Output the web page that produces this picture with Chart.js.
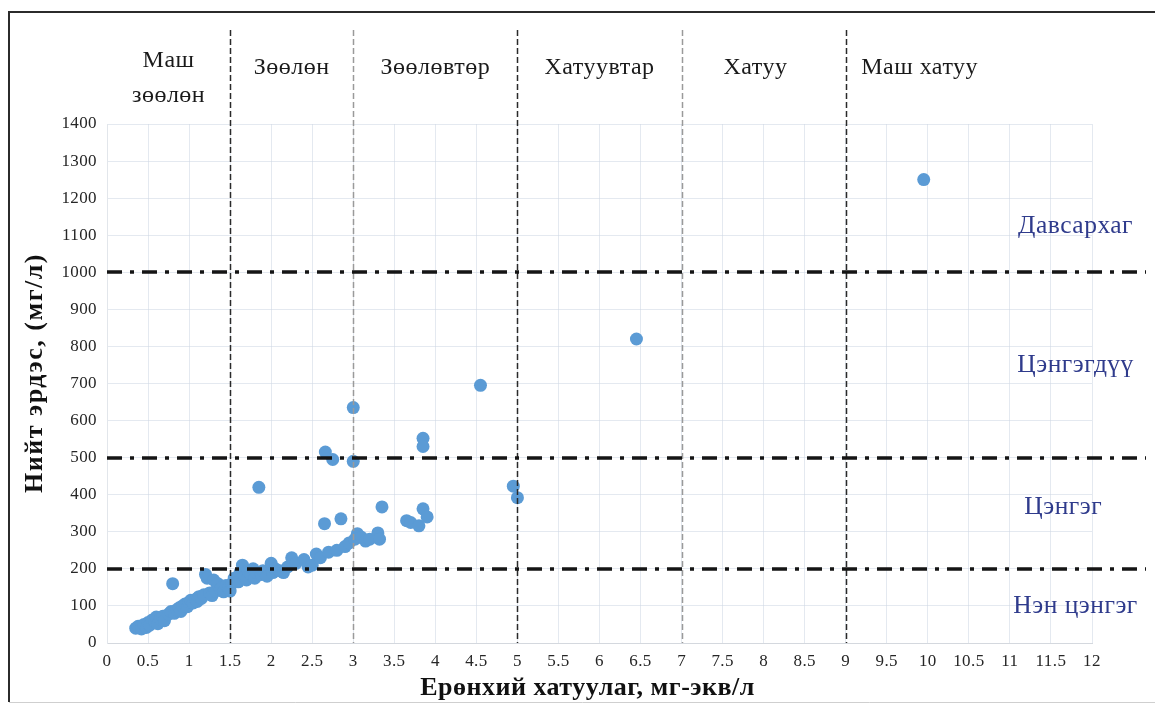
<!DOCTYPE html>
<html>
<head>
<meta charset="utf-8">
<script src="https://cdn.jsdelivr.net/npm/chart.js@4.4.1/dist/chart.umd.min.js"></script>
<style>
  html, body { margin: 0; padding: 0; background: #ffffff; }
  #wrap { width: 1155px; height: 708px; position: relative; }
</style>
</head>
<body>
<div id="wrap"><canvas id="c" width="1155" height="708"></canvas></div>
<script>
// Total hardness (mg-eq/l) and total dissolved solids (mg/l) of the samples
const hardness = [
  0.35, 0.38, 0.42, 0.45, 0.48, 0.50, 0.52, 0.55, 0.58, 0.60, 0.62, 0.65, 0.68, 0.70,
  0.75, 0.78, 0.80, 0.82, 0.85, 0.88, 0.90, 0.92, 0.95, 0.98, 1.00, 1.02, 1.05, 1.08,
  1.10, 1.12, 1.15, 1.18, 1.20, 1.22, 1.25, 1.28, 1.30, 1.32, 1.35, 1.38, 1.40, 1.42,
  1.45, 1.48, 1.50, 1.52, 1.55, 1.60, 1.62, 1.65, 1.68, 1.70, 1.72, 1.75, 1.78, 1.80,
  1.82, 1.85, 1.88, 1.90, 1.95, 2.00, 2.02, 2.05, 2.10, 2.15, 2.20, 2.25, 2.30, 2.40,
  2.45, 2.50, 2.55, 2.60, 2.65, 2.66, 2.70, 2.75, 2.80, 2.85, 2.90, 2.95, 3.00, 3.00,
  3.02, 3.05, 3.10, 3.15, 3.20, 3.30, 3.32, 3.35, 3.65, 3.70, 3.80, 3.85, 3.90, 3.85,
  3.85, 4.55, 4.95, 5.00, 6.45, 9.95
];
const minerals = [
  40, 45, 38, 50, 42, 55, 48, 62, 58, 70, 52, 65, 72, 60,
  78, 85, 160, 80, 90, 95, 85, 100, 105, 98, 110, 115, 108, 118,
  112, 125, 120, 130, 185, 175, 135, 128, 170, 140, 160, 145, 150, 138,
  155, 148, 140, 160, 175, 165, 190, 210, 180, 170, 195, 185, 200, 175,
  190, 420, 185, 195, 180, 215, 190, 200, 195, 190, 205, 230, 215, 225,
  205, 210, 240, 230, 322, 515, 245, 495, 250, 335, 260, 270, 635, 490,
  280, 295, 285, 275, 280, 297, 280, 367, 330, 325, 316, 362, 340, 552,
  530, 695, 423, 392, 820, 1250
];

// Hardness classes (upper bounds) and their names
const hardnessBounds = [1.5, 3, 5, 7, 9];
const hardnessBoundDark = [true, false, true, false, true];
const hardnessNames = [["Маш", "зөөлөн"], ["Зөөлөн"], ["Зөөлөвтөр"], ["Хатуувтар"], ["Хатуу"], ["Маш хатуу"]];
const hardnessNameX = [0.75, 2.25, 4.0, 6.0, 7.9, 9.9];

// Mineralization classes
const mineralBounds = [200, 500, 1000];
const mineralNames = ["Нэн цэнгэг", "Цэнгэг", "Цэнгэгдүү", "Давсархаг"];
const mineralNameY = [100, 367, 750, 1125];
const mineralNameX = [11.8, 11.65, 11.8, 11.8];

const xTicks = [0, 12, 0.5];
const yTicks = [0, 1400, 100];

const xTitle = 'Ерөнхий хатуулаг, мг-экв/л';
const yTitle = 'Нийт эрдэс, (мг/л)';

const SERIF = '"Liberation Serif", "DejaVu Serif", serif';

const overlay = {
  id: 'classOverlay',
  beforeDraw(chart) {
    chart.ctx.letterSpacing = '0.4px';
  },
  afterDatasetsDraw(chart) {
    const ctx = chart.ctx;
    const xs = chart.scales.x, ys = chart.scales.y;
    const area = chart.chartArea;
    ctx.save();

    // hardness class dividers
    hardnessBounds.forEach((b, i) => {
      const px = Math.round(xs.getPixelForValue(b)) + 0.5;
      ctx.beginPath();
      ctx.setLineDash([6, 3]);
      ctx.lineWidth = 1.5;
      ctx.strokeStyle = hardnessBoundDark[i] ? '#2a2a2a' : '#9a9a9a';
      ctx.moveTo(px, 30);
      ctx.lineTo(px, area.bottom);
      ctx.stroke();
    });

    // mineralization class dividers
    mineralBounds.forEach(b => {
      const py = Math.round(ys.getPixelForValue(b));
      ctx.beginPath();
      ctx.setLineDash([15, 8, 4, 8]);
      ctx.lineWidth = 3.5;
      ctx.strokeStyle = '#151515';
      ctx.moveTo(area.left, py);
      ctx.lineTo(1146, py);
      ctx.stroke();
    });
    ctx.setLineDash([]);

    // hardness class names
    ctx.fillStyle = '#1a1a1a';
    ctx.font = '24px ' + SERIF;
    ctx.letterSpacing = '0.5px';
    ctx.textAlign = 'center';
    ctx.textBaseline = 'middle';
    hardnessNames.forEach((lines, i) => {
      const px = xs.getPixelForValue(hardnessNameX[i]);
      if (lines.length === 2) {
        ctx.fillText(lines[0], px, 61);
        ctx.fillText(lines[1], px, 96);
      } else {
        ctx.fillText(lines[0], px, 68);
      }
    });

    // mineralization class names
    ctx.fillStyle = '#2f3b8c';
    ctx.font = '25.5px ' + SERIF;
    ctx.letterSpacing = '0.5px';
    mineralNames.forEach((t, i) => {
      ctx.fillText(t, xs.getPixelForValue(mineralNameX[i]), ys.getPixelForValue(mineralNameY[i]));
    });

    // axis titles
    ctx.fillStyle = '#111111';
    ctx.font = 'bold 26px ' + SERIF;
    ctx.letterSpacing = '0.5px';
    ctx.fillText(xTitle, (area.left + area.right) / 2 - 12, 688);
    ctx.save();
    ctx.translate(35, 373);
    ctx.rotate(-Math.PI / 2);
    ctx.letterSpacing = '1.5px';
    ctx.fillText(yTitle, 0, 0);
    ctx.restore();

    // outer frame
    ctx.strokeStyle = '#2b2b2b';
    ctx.lineWidth = 2;
    ctx.beginPath();
    ctx.moveTo(1160, 12);
    ctx.lineTo(9, 12);
    ctx.lineTo(9, 702);
    ctx.stroke();
    ctx.strokeStyle = '#cfcfcf';
    ctx.lineWidth = 1;
    ctx.beginPath();
    ctx.moveTo(9, 702.5);
    ctx.lineTo(1160, 702.5);
    ctx.stroke();

    ctx.restore();
  }
};

const points = hardness.map((h, i) => ({ x: h, y: minerals[i] }));

new Chart(document.getElementById('c'), {
  type: 'scatter',
  data: {
    datasets: [{
      data: points,
      backgroundColor: '#5b9bd5',
      borderColor: '#5b9bd5',
      pointRadius: 6.5,
      pointHoverRadius: 6.5,
      borderWidth: 0
    }]
  },
  options: {
    responsive: false,
    animation: false,
    devicePixelRatio: 1,
    layout: { padding: { left: 20, right: 63, top: 124, bottom: 5 } },
    plugins: { legend: { display: false }, tooltip: { enabled: false } },
    scales: {
      x: {
        type: 'linear',
        min: xTicks[0], max: xTicks[1],
        ticks: {
          stepSize: xTicks[2],
          padding: 8,
          color: '#262626',
          font: { family: SERIF, size: 17 },
          callback: v => String(v),
          maxRotation: 0, autoSkip: false
        },
        grid: { color: 'rgba(205,215,228,0.55)', drawTicks: false },
        border: { color: '#d4d8de', width: 1 },
        title: { display: false },
        afterFit: s => { s.height = 60; }
      },
      y: {
        type: 'linear',
        min: yTicks[0], max: yTicks[1],
        ticks: {
          stepSize: yTicks[2],
          padding: 10,
          color: '#262626',
          font: { family: SERIF, size: 17 },
          callback: v => String(v)
        },
        grid: { color: 'rgba(205,215,228,0.55)', drawTicks: false },
        border: { color: '#e2e6eb', width: 1 },
        title: { display: false },
        afterFit: s => { s.width = 87; }
      }
    }
  },
  plugins: [overlay]
});
</script>
</body>
</html>
